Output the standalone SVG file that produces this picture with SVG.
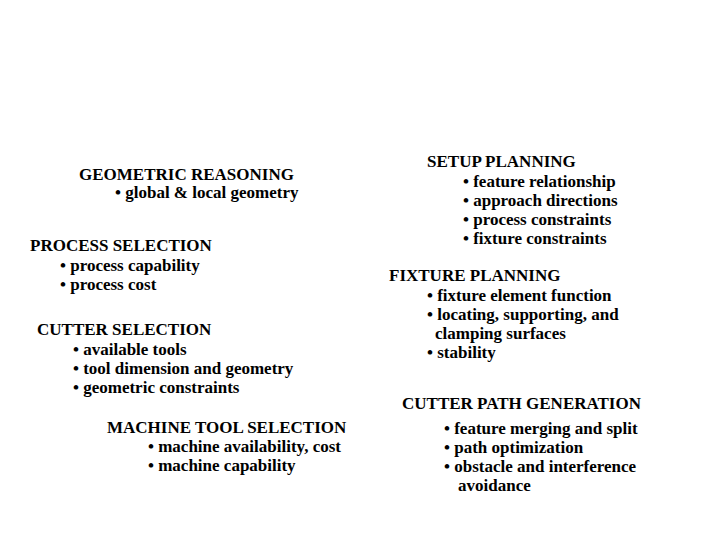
<svg xmlns="http://www.w3.org/2000/svg" width="720" height="540" viewBox="0 0 720 540">
<style>text{font-family:"Liberation Serif","Times New Roman",serif;font-size:17px;font-weight:bold;fill:#000}</style>
<rect width="720" height="540" fill="#fff"/>
<g id="geometric-reasoning"><text x="79" y="180">GEOMETRIC REASONING</text><text x="115" y="198">• global &amp; local geometry</text></g>
<g id="process-selection"><text x="30" y="251">PROCESS SELECTION</text><text x="60" y="271">• process capability</text><text x="60" y="290">• process cost</text></g>
<g id="cutter-selection"><text x="37" y="335">CUTTER SELECTION</text><text x="73" y="355">• available tools</text><text x="73" y="374">• tool dimension and geometry</text><text x="73" y="393">• geometric constraints</text></g>
<g id="machine-tool-selection"><text x="107" y="433">MACHINE TOOL SELECTION</text><text x="148" y="452">• machine availability, cost</text><text x="148" y="471">• machine capability</text></g>
<g id="setup-planning"><text x="427" y="167">SETUP PLANNING</text><text x="463" y="187">• feature relationship</text><text x="463" y="206">• approach directions</text><text x="463" y="225">• process constraints</text><text x="463" y="244">• fixture constraints</text></g>
<g id="fixture-planning"><text x="389" y="281">FIXTURE PLANNING</text><text x="427" y="301">• fixture element function</text><text x="427" y="320">• locating, supporting, and</text><text x="435" y="339">clamping surfaces</text><text x="427" y="358">• stability</text></g>
<g id="cutter-path-generation"><text x="402" y="409">CUTTER PATH GENERATION</text><text x="444" y="434">• feature merging and split</text><text x="444" y="453">• path optimization</text><text x="444" y="472">• obstacle and interference</text><text x="458" y="491">avoidance</text></g>
<g id="connectors"/>
</svg>
